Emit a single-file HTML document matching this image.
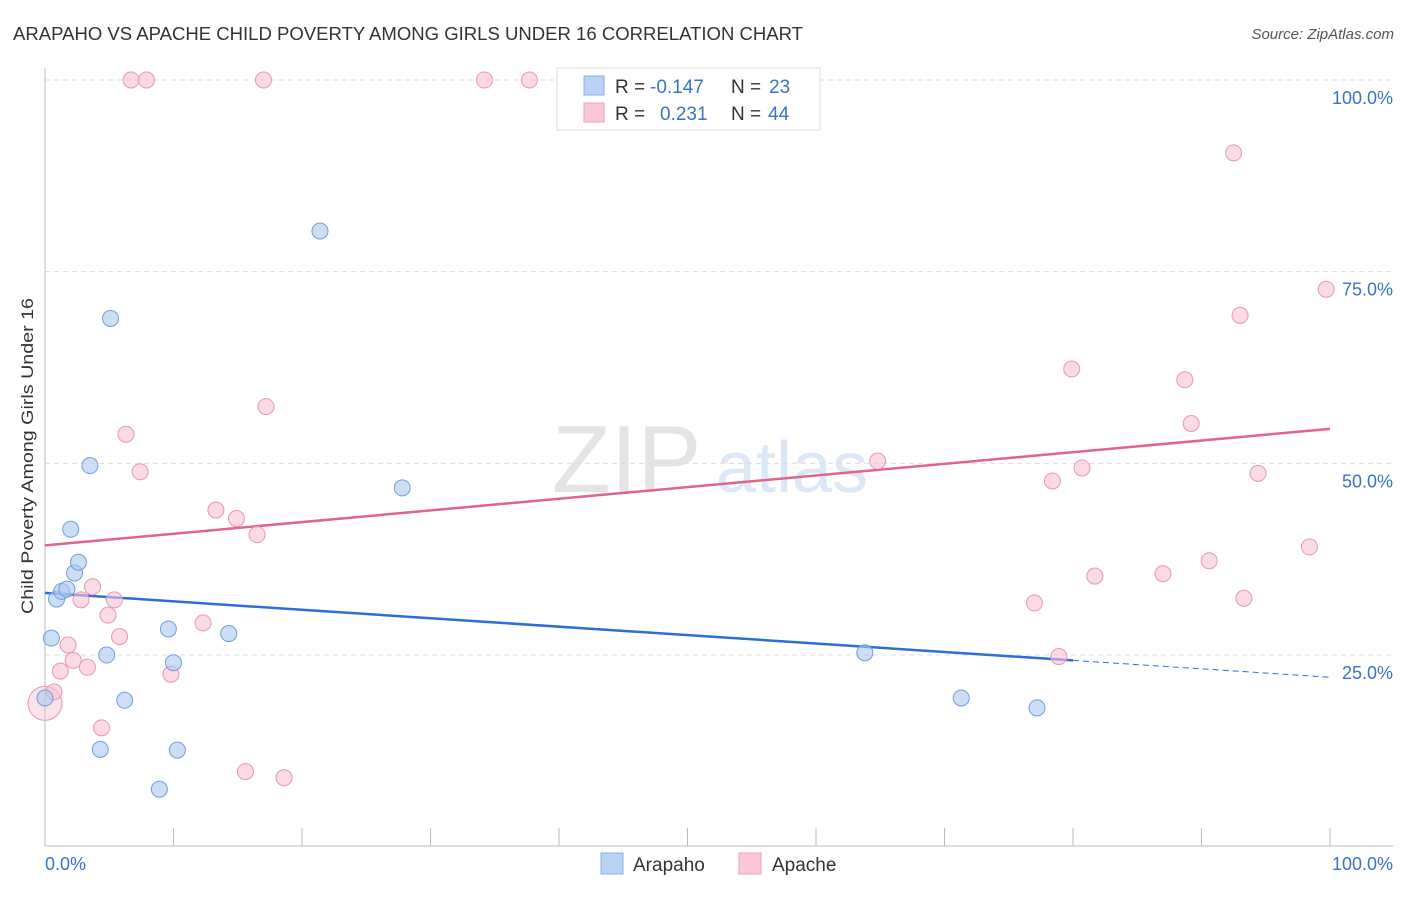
<!DOCTYPE html>
<html><head><meta charset="utf-8"><style>
body{margin:0;background:#fff;font-family:"Liberation Sans",sans-serif;}
svg text{font-family:"Liberation Sans",sans-serif;}
</style></head><body>
<svg id="chart" width="1406" height="892" xmlns="http://www.w3.org/2000/svg">
<text x="13" y="40" font-size="18" fill="#333" textLength="790" lengthAdjust="spacingAndGlyphs">ARAPAHO VS APACHE CHILD POVERTY AMONG GIRLS UNDER 16 CORRELATION CHART</text>
<text x="1394" y="39" font-size="15" fill="#555" font-style="italic" text-anchor="end">Source: ZipAtlas.com</text>
<text x="552" y="492" font-size="96" fill="#e4e4e4" font-family="Liberation Serif">ZIP</text>
<text x="716" y="492" font-size="72" fill="#dce8f6">atlas</text>
<g id="grid"></g><g id="axes"></g><g id="lines"></g><g id="pts"></g>
<text transform="translate(33,456) rotate(-90)" font-size="17" fill="#333" text-anchor="middle" textLength="316" lengthAdjust="spacingAndGlyphs">Child Poverty Among Girls Under 16</text>
<g>
<rect x="557" y="68" width="263" height="62" fill="#fff" stroke="#ddd"/>
<rect x="584" y="76" width="20" height="19" fill="#b9d3f5" stroke="#8ab2e6"/>
<rect x="584" y="103" width="20" height="19" fill="#f9c7d6" stroke="#eea3b8"/>
<text x="615" y="93" font-size="19" fill="#333">R =</text><text x="650" y="93" font-size="19" fill="#3a72c8">-0.147</text>
<text x="731" y="93" font-size="19" fill="#333">N =</text><text x="769" y="93" font-size="19" fill="#3a72c8">23</text>
<text x="615" y="120" font-size="19" fill="#333">R =</text><text x="660" y="120" font-size="19" fill="#3a72c8">0.231</text>
<text x="731" y="120" font-size="19" fill="#333">N =</text><text x="768" y="120" font-size="19" fill="#3a72c8">44</text>
</g>
<g>
<rect x="601" y="853" width="22" height="21" fill="#b9d3f5" stroke="#8ab2e6"/>
<text x="633" y="871" font-size="19" fill="#333">Arapaho</text>
<rect x="739" y="853" width="22" height="21" fill="#f9c7d6" stroke="#eea3b8"/>
<text x="772" y="871" font-size="19" fill="#333">Apache</text>
</g>
</svg>
<script>
const yTicks=[25,50,75,100];
const yTickLabels=["25.0%","50.0%","75.0%","100.0%"];
const arapahoX=[0,0.5,0.9,1.3,1.7,2.0,2.3,2.6,3.5,4.3,4.8,5.1,6.2,8.9,9.6,10.0,10.3,14.3,21.4,27.8,63.8,71.3,77.2];
const arapahoY=[19.4,27.2,32.3,33.3,33.6,41.4,35.7,37.1,49.7,12.7,25.0,68.9,19.1,7.5,28.4,24.0,12.6,27.8,80.3,46.8,25.3,19.4,18.1];
const apacheX=[0,0.7,1.2,1.8,2.2,2.8,3.3,3.7,4.4,4.9,5.4,5.8,6.3,6.7,7.4,7.9,9.8,12.3,13.3,14.9,15.6,16.5,17.0,17.2,18.6,34.2,37.7,64.8,77.0,78.4,78.9,79.9,80.7,81.7,87.0,88.7,89.2,90.6,92.5,93.0,93.3,94.4,98.4,99.7];
const apacheY=[18.7,20.2,22.9,26.3,24.3,32.2,23.4,33.9,15.5,30.2,32.2,27.4,53.8,100,48.9,100,22.5,29.2,43.9,42.8,9.8,40.7,100,57.4,9.0,100,100,50.3,31.8,47.7,24.8,62.3,49.4,35.3,35.6,60.9,55.2,37.3,90.5,69.3,32.4,48.7,39.1,72.7];
const arapahoTrend=[33.1,22.1];
const apacheTrend=[39.3,54.5];
const NS="http://www.w3.org/2000/svg";
const X=v=>45+v*12.85, Y=v=>846.7-v*7.667;
function mk(tag,at,parent){const e=document.createElementNS(NS,tag);for(const k in at)e.setAttribute(k,at[k]);document.getElementById(parent).appendChild(e);return e;}
yTicks.forEach((t,i)=>{
 const g=mk('line',{x1:45,x2:1393,y1:Y(t),y2:Y(t),stroke:'#ddd','stroke-dasharray':'5,4'},'grid');
 
 
 const l=mk('text',{x:1393,y:Y(t)+24,'font-size':18,fill:'#3a72c8','text-anchor':'end'},'grid');
 l.textContent=yTickLabels[i];
 
 
});
const ax=mk('line',{x1:45,x2:45,y1:68,y2:846,stroke:'#bbb'},'axes');


const bx=mk('line',{x1:45,x2:1393,y1:846,y2:846,stroke:'#bbb'},'axes');


for(let i=0;i<=10;i++){const t=mk('line',{x1:X(i*10),x2:X(i*10),y1:828,y2:846,stroke:'#bbb'},'axes');
 
 }
[[0,"0.0%",'start',45],[100,"100.0%",'end',1393]].forEach(a=>{const t=mk('text',{x:a[3],y:870,'font-size':18,fill:'#3a72c8','text-anchor':a[2]},'axes');t.textContent=a[1];
 
 });
function pts(xs,ys,fill,stroke,name,bigFirst){xs.forEach((x,i)=>{const r=(bigFirst&&i===0)?17:8;const c=mk('circle',{cx:X(x),cy:Y(ys[i]),r:r,fill:fill,stroke:stroke,'stroke-width':1,'fill-opacity':(r>8?0.45:0.6)},'pts');
 
 });}
pts(apacheX,apacheY,'#f9c2d3','#e898b0','apache-point',true);
pts(arapahoX,arapahoY,'#aac8f0','#6f9fdc','arapaho-point',false);
const bs=(arapahoTrend[1]-arapahoTrend[0])/100, be=arapahoTrend[0]+bs*80;
const l1=mk('line',{x1:X(0),y1:Y(arapahoTrend[0]),x2:X(80),y2:Y(be),stroke:'#2a6fd6','stroke-width':2.5},'lines');


const l2=mk('line',{x1:X(80),y1:Y(be),x2:X(100),y2:Y(arapahoTrend[1]),stroke:'#2a6fd6','stroke-width':1,'stroke-dasharray':'6,4'},'lines');


const l3=mk('line',{x1:X(0),y1:Y(apacheTrend[0]),x2:X(100),y2:Y(apacheTrend[1]),stroke:'#e0648c','stroke-width':2.5},'lines');


</script>
</body></html>
